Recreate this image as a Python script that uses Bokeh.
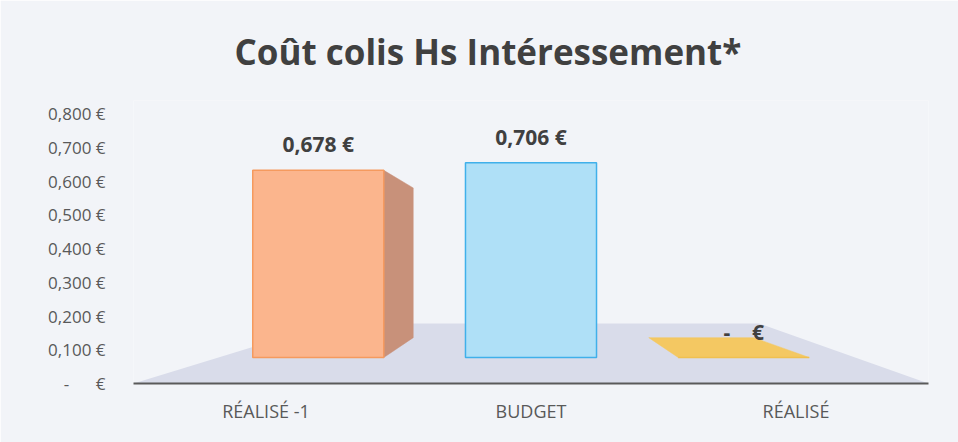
from bokeh.plotting import figure
from bokeh.models import Range1d, FactorRange, FixedTicker, CustomJSTickFormatter
from bokeh.embed import file_html
from bokeh.resources import INLINE
from bokeh.core.properties import value

# ---------------- data ----------------
categories = ["RÉALISÉ -1", "BUDGET", "RÉALISÉ"]
values = [0.678, 0.706, 0.0]
y_ticks = [0.0, 0.1, 0.2, 0.3, 0.4, 0.5, 0.6, 0.7, 0.8]
title_text = "Coût colis Hs Intéressement*"

# ---------------- style ----------------
front_colors = ["#fbb58d", "#afe0f7", "#f4c862"]
edge_colors = ["#f59a5e", "#40b0ea", "#f0c050"]
side_colors = ["#c8917a", "#7fc3e6", "#d9ad45"]
FONT = "Open Sans"
TXT = "#595959"
BG = "#f2f4f8"
FLOOR = "#d9dcea"

W, H = 958, 442
ML, MR, MT, MB = 133, 30, 100, 59
frame_h = H - MT - MB
AX_PX_PER_UNIT = 337.5      # axis scale (front plane)
BAR_PX_PER_UNIT = 276.0     # bar scale (back plane, perspective)
BAR_BASE_PX = 26.0          # bars stand on the floor, above the baseline
BAR_WIDTH = 0.616
CAT_PADDING = 0.2457        # back plane categories are closer together
VY = 0.36                   # vanishing height (bar units)
DEPTH = 0.80                # perspective factor of the back faces
FLOOR_DEPTH = 60.0 / AX_PX_PER_UNIT
FLOOR_BACK = (0.74, 2.36)


def fmt(v):
    if abs(v) < 1e-12:
        return "-\u00a0\u00a0\u00a0\u00a0€"
    return f"{v:.3f}".replace(".", ",") + " €"


p = figure(width=W, height=H,
           x_range=FactorRange(*categories),
           y_range=Range1d(0, frame_h / AX_PX_PER_UNIT),
           output_backend="svg", toolbar_location=None,
           min_border_left=ML, min_border_right=MR,
           min_border_top=MT, min_border_bottom=MB)
p.extra_x_ranges = {"back": FactorRange(factors=categories,
                                        range_padding=CAT_PADDING,
                                        range_padding_units="percent")}
p.extra_y_ranges = {"bars": Range1d(-BAR_BASE_PX / BAR_PX_PER_UNIT,
                                    (frame_h - BAR_BASE_PX) / BAR_PX_PER_UNIT)}

p.background_fill_color = BG
p.border_fill_color = BG
p.outline_line_color = None
p.xgrid.grid_line_color = None
p.ygrid.grid_line_color = None

# floor of the 3-D chart
n = len(categories)
p.patch(x=[0, FLOOR_BACK[0], FLOOR_BACK[1], n], y=[0, FLOOR_DEPTH, FLOOR_DEPTH, 0],
        fill_color=FLOOR, line_color=None)

# hidden faces of the 3-D boxes (side / top)
VX = n / 2.0
bx = lambda x: VX + DEPTH * (x - VX)
by = lambda y: VY + DEPTH * (y - VY)
fx, fy, fc = [], [], []
for i, v in enumerate(values):
    xc = i + 0.5
    xl, xr = xc - BAR_WIDTH / 2, xc + BAR_WIDTH / 2
    if xr < VX and v > 0:
        fx.append([xr, bx(xr), bx(xr), xr]); fy.append([v, by(v), by(0), 0]); fc.append(side_colors[i])
    if xl > VX and v > 0:
        fx.append([xl, bx(xl), bx(xl), xl]); fy.append([v, by(v), by(0), 0]); fc.append(side_colors[i])
    if v < VY:
        fx.append([xl, xr, bx(xr), bx(xl)]); fy.append([v, v, by(v), by(v)]); fc.append(front_colors[i])
if fx:
    p.patches(xs=fx, ys=fy, fill_color=fc, line_color=fc, line_width=0.5,
              x_range_name="back", y_range_name="bars")

# front faces
p.vbar(x=categories, top=values, bottom=0, width=BAR_WIDTH,
       fill_color=front_colors, line_color=edge_colors, line_width=1.5,
       x_range_name="back", y_range_name="bars")

# value labels
p.text(x=categories, y=values, text=[fmt(v) for v in values],
       x_range_name="back", y_range_name="bars",
       text_align="center", text_baseline="bottom", y_offset=-12,
       text_font=value(FONT), text_font_style="bold", text_font_size="21px",
       text_color="#404040")

# axes
p.xaxis.axis_line_color = "#5a5a5a"
p.xaxis.axis_line_width = 2
p.xaxis.major_tick_line_color = None
p.xaxis.minor_tick_line_color = None
p.xaxis.major_label_text_font = FONT
p.xaxis.major_label_text_font_size = "18px"
p.xaxis.major_label_text_color = TXT
p.xaxis.major_label_standoff = 9

p.yaxis.ticker = FixedTicker(ticks=y_ticks)
p.yaxis.formatter = CustomJSTickFormatter(code="""
if (Math.abs(tick) < 1e-9) { return "-\\u00a0\\u00a0\\u00a0\\u00a0\\u00a0\\u00a0\\u20ac"; }
return tick.toFixed(3).replace(".", ",") + " \\u20ac";
""")
p.yaxis.axis_line_color = None
p.yaxis.major_tick_line_color = None
p.yaxis.minor_tick_line_color = None
p.yaxis.major_label_text_font = FONT
p.yaxis.major_label_text_font_size = "17px"
p.yaxis.major_label_text_color = TXT
p.yaxis.major_label_standoff = 22

# title
p.title.text = title_text
p.title.align = "left"
p.title.offset = 101
p.title.standoff = 51
p.title.text_font = FONT
p.title.text_font_style = "bold"
p.title.text_font_size = "35px"
p.title.text_color = "#404040"

open("out.html", "w").write(file_html(p, INLINE))
